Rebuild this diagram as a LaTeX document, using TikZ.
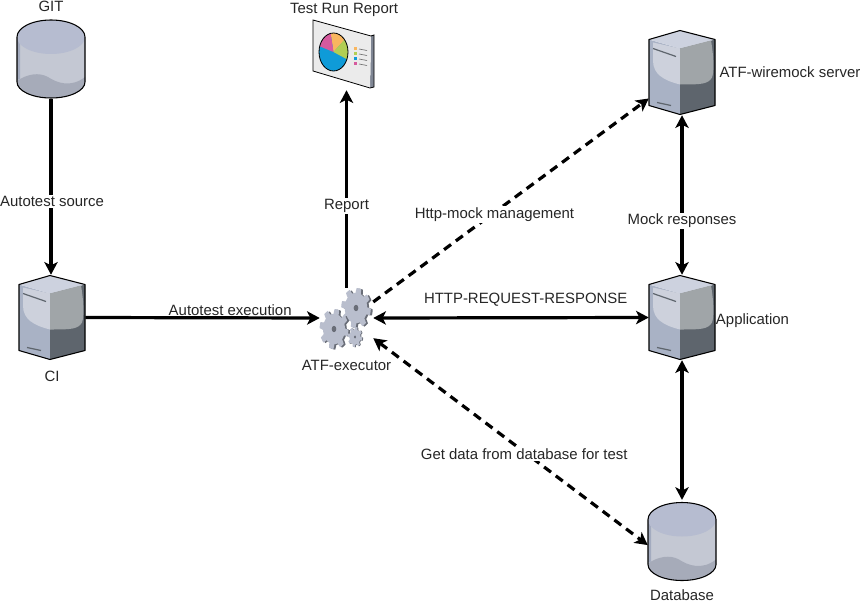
\documentclass[tikz,border=0pt]{standalone}
\usepackage{fontspec}
\setmainfont{Liberation Sans}
\usetikzlibrary{positioning,arrows.meta}
\definecolor{dbtop}{HTML}{B6BCD0}
\definecolor{dbbody}{HTML}{C4C8D3}
\definecolor{dbwave}{HTML}{A6ABB9}
\definecolor{dbside}{HTML}{A3ABBF}
\definecolor{srvtop}{HTML}{CDD2DF}
\definecolor{srvleft}{HTML}{A9B2C5}
\definecolor{srvdark}{HTML}{5E656D}
\definecolor{srvlight}{HTML}{CDD1DC}
\definecolor{srvmid}{HTML}{A0A5A8}
\definecolor{geardark}{HTML}{696D77}
\definecolor{gearlight}{HTML}{B9BECD}
\definecolor{pieorange}{HTML}{F9B65F}
\definecolor{piegreen}{HTML}{B2CE54}
\definecolor{pieblue}{HTML}{0F9BD8}
\definecolor{piepink}{HTML}{D65A9E}
\tikzset{
  % icons, drawn round their own centre
  dbicon/.pic={
    \fill[dbbody] (-34,-22) -- (-34,23) arc[start angle=180,end angle=0,x radius=34,y radius=16] -- (34,-22) -- cycle;
    \fill[dbside] (-34,-22) -- (-34,21) -- (-31,20) -- (-31,-15) -- cycle;
    \fill[dbwave] (-34,22) .. controls (-24,15) and (-12,13) .. (-3,18) .. controls (6,24) and (20,29) .. (34,18) -- (34,23) arc[start angle=0,end angle=180,x radius=34,y radius=16] -- cycle;
    \fill[dbtop] (0,-22) ellipse[x radius=34,y radius=17];
    \draw[line width=.8pt] (-34,-22) -- (-34,23) arc[start angle=180,end angle=0,x radius=34,y radius=16] -- (34,-22) arc[start angle=0,end angle=-180,x radius=34,y radius=17] -- cycle;
  },
  srvicon/.pic={
    \fill[srvleft] (-33,-33) -- (-2,-24) -- (-2,42) -- (-33,33) -- cycle;
    \fill[srvdark] (33,-33) -- (-2,-24) -- (-2,42) -- (33,33) -- cycle;
    \fill[srvtop] (-2,-42) -- (33,-33) -- (-2,-24) -- (-33,-33) -- cycle;
    \fill[srvlight] (-29,-30) -- (-2,-24) -- (-2,12) .. controls (-18,8) and (-29,2) .. (-29,-12) -- cycle;
    \fill[srvmid] (-2,-24) -- (29,-32) .. controls (32,-15) and (32,0) .. (30,5) .. controls (26,12) and (18,12) .. (-2,12) -- cycle;
    \draw[srvdark,line width=.9pt] (-29,-24) -- (-6,-16);
    \draw[srvdark,line width=.9pt] (-25,30) -- (-11,33);
    \draw[line width=.8pt,line join=round] (-2,-42) -- (33,-33) -- (33,33) -- (-2,42) -- (-33,33) -- (-33,-33) -- cycle;
  },
  pics/gearicon/.style={code={
    \fill[geardark] plot[domain=0:360,samples=145,shift={(#1*.13,#1*.03)}] ({#1*(.88+.12*max(-1,min(1,3*sin(8*\x))))*cos(\x)},{#1*(.88+.12*max(-1,min(1,3*sin(8*\x))))*sin(\x)}) -- cycle;
    \fill[gearlight] plot[domain=0:360,samples=145] ({#1*(.88+.12*max(-1,min(1,3*sin(8*\x))))*cos(\x)},{#1*(.88+.12*max(-1,min(1,3*sin(8*\x))))*sin(\x)}) -- cycle;
    \fill[geardark] (0,0) circle[radius=#1*.16];
  }},
  reporticon/.pic={
    \fill[srvleft!75!black] (27,-18) -- (30,-19) -- (30,33) -- (26,34) -- cycle;
    \fill[black!8] (-31,-34) -- (27,-18) -- (26,34) -- (-31,17) -- cycle;
    \draw[line width=.6pt] (-31,-34) -- (27,-18) -- (30,-19) -- (30,33) -- (26,34) -- (-31,17) -- cycle;
    \begin{scope}
      \clip (-10.5,-2) ellipse[x radius=14.5,y radius=19];
      \fill[pieblue] (-30,-25) rectangle (8,20);
      \fill[pieorange] (-10.5,-2) -- (-14,-25) -- (8,-25) -- (2,-16) -- cycle;
      \fill[piegreen] (-10.5,-2) -- (2,-16) -- (8,-18) -- (8,8) -- cycle;
      \fill[piepink] (-10.5,-2) -- (-14,-25) -- (-30,-25) -- (-30,-10) -- cycle;
    \end{scope}
    \draw[line width=.6pt] (-10.5,-2) ellipse[x radius=14.5,y radius=19];
    \fill[pieorange] (10,-7) rectangle +(3,3);
    \fill[piegreen] (10,-2) rectangle +(3,3);
    \fill[pieblue] (10,3) rectangle +(3,3);
    \fill[piepink] (10,8) rectangle +(3,3);
    \foreach \ly in {-5,0,5,10}
      \draw[black!55,line width=.5pt] (15,\ly) -- (23,\ly+1.5);
  }
}
\begin{document}
\begin{tikzpicture}[
    x=.75pt,y=-.75pt,
    >={Stealth[length=9.5pt,width=10pt,inset=2.5pt]},
    node distance=1pt and 2pt,
    dbnode/.style={inner sep=0pt,minimum width=51pt,minimum height=62pt},
    srvnode/.style={inner sep=0pt,minimum width=49.5pt,minimum height=63.75pt},
    execnode/.style={inner sep=0pt,minimum width=39.75pt,minimum height=45pt},
    reportnode/.style={inner sep=0pt,minimum width=46pt,minimum height=54pt},
    txt/.style={font=\fontsize{11.2pt}{13pt}\selectfont,inner sep=0pt,text=black!85,yshift=-1.5pt},
    lbl/.style={txt,fill=white,inner sep=1pt},
    conn/.style={line width=2.4pt},
    dashconn/.style={conn,dash pattern=on 6.5pt off 4.5pt}
    ]

    \useasboundingbox (0,0) rectangle (862,602);

    \node[dbnode] (git) at (51,57.5) {};
    \node[srvnode] (ci) at (52,317.5) {};
    \node[execnode] (exec) at (346.5,318) {};
    \node[reportnode] (report) at (344,54) {};
    \node[srvnode] (wire) at (682,72.5) {};
    \node[srvnode] (app) at (682,317.5) {};
    \node[dbnode] (db) at (682,541.5) {};

    \pic at (51,59) {dbicon};
    \pic at (682,541.5) {dbicon};
    \pic at (ci) {srvicon};
    \pic at (wire) {srvicon};
    \pic at (app) {srvicon};
    \pic at (344,54) {reporticon};
    \pic[xscale=.74] at (356,308) {gearicon=20};
    \pic[xscale=.72] at (334,329) {gearicon=20};
    \pic[xscale=.72] at (355,337) {gearicon=10};

    \node[txt, above=4.75pt of git] (gittxt) {GIT};
    \node[txt, below=6.5pt of ci] (citxt) {CI};
    \node[txt, below=7.5pt of exec] (exectxt) {ATF-executor};
    \node[txt] (reporttxt) at (344,8) {Test Run Report};
    \node[txt, right=3pt of wire, yshift=1.5pt] (wiretxt) {ATF-wiremock server};
    \node[txt] (apptxt) at (752.5,319) {Application};
    \node[txt, below=3pt of db] (dbtxt) {Database};

    \path (git.south) edge[conn,->] node[lbl,pos=.57,xshift=.75pt] (l1) {Autotest source} (git.south |- ci.north)
    (ci.east) edge[conn,->] node[txt,above=2pt,xshift=20.75pt] (l2) {Autotest execution} (exec.west)
    (exec.north) edge[conn,->] node[lbl,pos=.425] (l3) {Report} (exec.north |- report.south)
    (exec.31) edge[dashconn,->] node[lbl,pos=.44] (l4) {Http-mock management} (wire.218)
    (exec.east) edge[conn,<->] node[txt,above=9pt,xshift=11pt] (l5) {HTTP-REQUEST-RESPONSE} (app.west)
    (wire.south) edge[conn,<->] node[lbl,pos=.65] (l6) {Mock responses} (app.north)
    (app.south) edge[conn,<->] (db.north)
    (exec.-37) edge[dashconn,<->] node[lbl,pos=.55] (l7) {Get data from database for test} (db.186)
    ;

  \end{tikzpicture}
\end{document}
